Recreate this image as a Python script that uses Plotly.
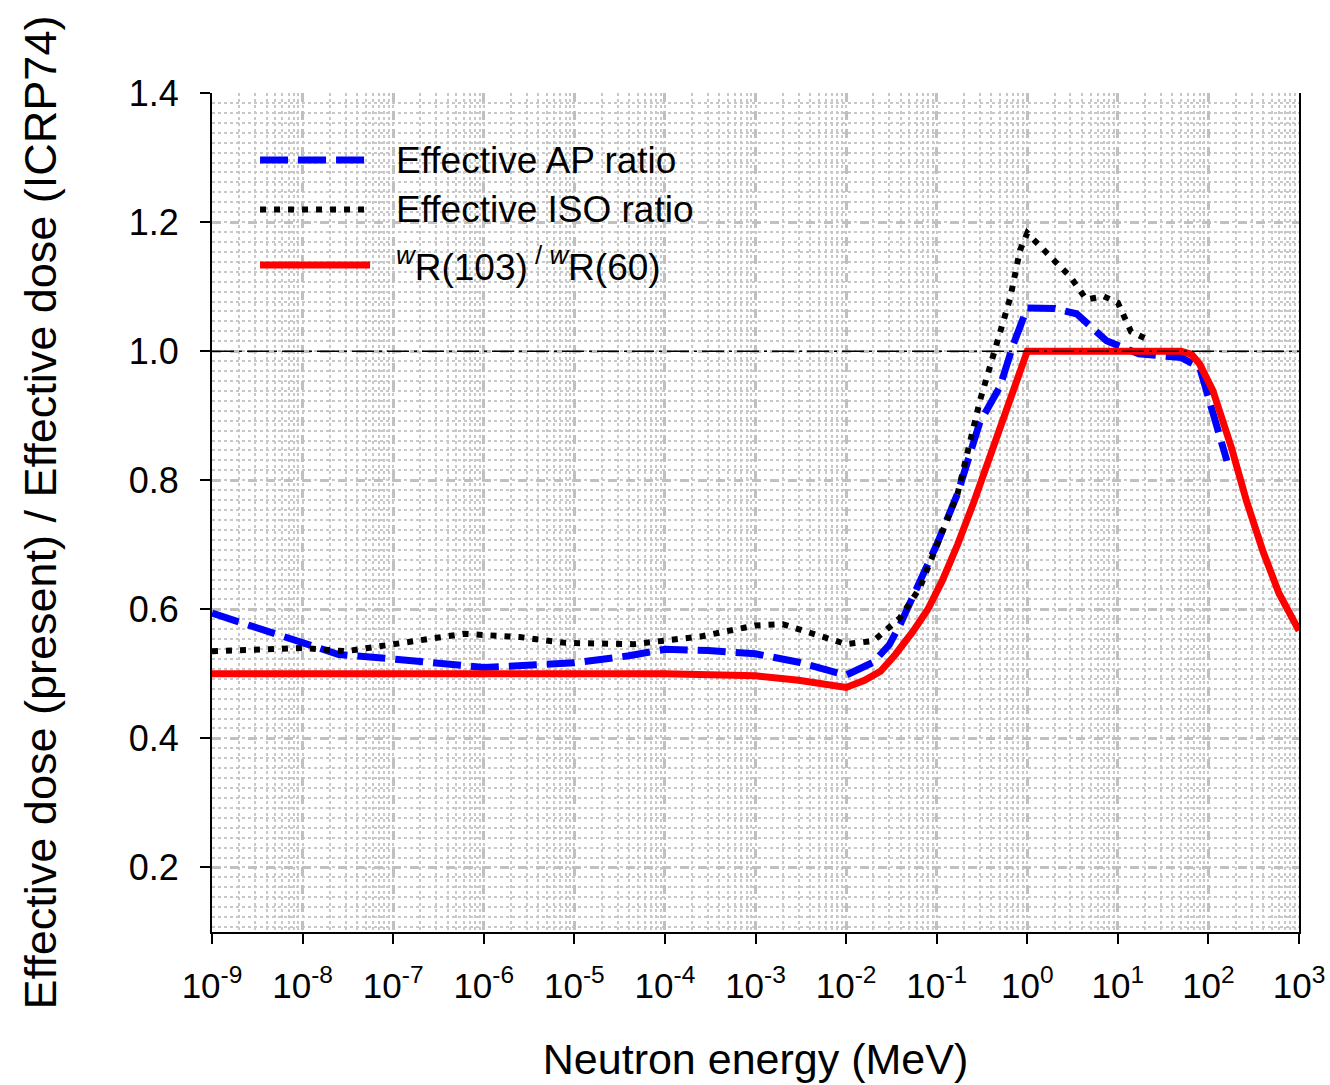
import plotly.graph_objects as go

# Neutron energy grid (MeV) and ratios for each curve
ap_energy = [1e-9, 3e-9, 1e-8, 2.5e-8, 1e-7, 1e-6, 1e-5, 4e-5, 1e-4, 3e-4, 1e-3, 3e-3,
             1e-2, 2e-2, 3e-2, 4e-2, 6e-2, 1e-1, 1.7e-1, 3e-1, 5e-1, 7e-1,
             1.0, 2.0, 3.5, 7.5, 17, 50, 80, 130, 160]
ap_ratio = [0.594, 0.572, 0.548, 0.530, 0.523, 0.510, 0.517, 0.528, 0.538, 0.536, 0.531, 0.518,
            0.498, 0.518, 0.545, 0.578, 0.632, 0.700, 0.779, 0.890, 0.945, 1.010,
            1.067, 1.066, 1.058, 1.016, 0.996, 0.990, 0.975, 0.870, 0.830]

iso_energy = [1e-9, 1e-8, 3e-8, 1.2e-7, 6e-7, 2.5e-6, 8e-6, 4.5e-5, 2.5e-4, 1e-3, 2e-3,
              6.6e-3, 1e-2, 2e-2, 3.9e-2, 6.5e-2, 1e-1, 1.7e-1, 3e-1, 4.6e-1, 6.5e-1, 8.3e-1,
              1.0, 2.0, 3.0, 4.5, 7.0, 10, 14, 20]
iso_ratio = [0.535, 0.540, 0.535, 0.548, 0.562, 0.557, 0.548, 0.546, 0.558, 0.575, 0.577,
             0.554, 0.546, 0.551, 0.586, 0.633, 0.700, 0.779, 0.923, 1.016, 1.083, 1.156,
             1.183, 1.140, 1.115, 1.080, 1.085, 1.075, 1.030, 1.020]

wr_energy = [1e-9, 1e-8, 1e-7, 1e-6, 1e-5, 1e-4, 1e-3, 3e-3, 1e-2, 1.6e-2, 2.4e-2, 3.5e-2,
             5.5e-2, 8e-2, 1.15e-1, 1.7e-1, 2.6e-1, 5e-1, 1.0, 10, 50, 65, 80, 112, 180, 263,
             400, 600, 800, 1000]
wr_ratio = [0.500, 0.500, 0.500, 0.500, 0.500, 0.500, 0.497, 0.490, 0.479, 0.490, 0.504, 0.530,
            0.566, 0.600, 0.644, 0.700, 0.768, 0.880, 1.000, 1.000, 1.000, 0.995, 0.980, 0.939,
            0.850, 0.768, 0.690, 0.625, 0.590, 0.567]

REF_LEVEL = 1.0

x_tickvals = [10.0 ** p for p in range(-9, 4)]
x_ticktext = ["10<sup>%d</sup>" % p for p in range(-9, 4)]
y_tickvals = [0.2, 0.4, 0.6, 0.8, 1.0, 1.2, 1.4]

FONT = "Liberation Sans, Arial, sans-serif"
GRID = "#c0c0c0"
MINOR_GRID = "#c8c8c8"

ap_style = dict(color="#0000ff", width=7, dash="28px,10px")
iso_style = dict(color="#000000", width=6, dash="6px,8px")
wr_style = dict(color="#ff0000", width=7)

fig = go.Figure()
fig.add_trace(go.Scatter(x=ap_energy, y=ap_ratio, mode="lines", line=ap_style,
                         name="Effective AP ratio", showlegend=False))
fig.add_trace(go.Scatter(x=iso_energy, y=iso_ratio, mode="lines", line=iso_style,
                         name="Effective ISO ratio", showlegend=False))
fig.add_trace(go.Scatter(x=wr_energy, y=wr_ratio, mode="lines", line=wr_style,
                         name="wR(103)/wR(60)", showlegend=False))

# unity reference line
fig.add_hline(y=REF_LEVEL, line=dict(color="black", width=1.5, dash="22px,5px,3px,5px"),
              layer="above")

# hand-built legend with long line samples
legend_rows = [
    (0.920, ap_style, "Effective AP ratio"),
    (0.861, iso_style, "Effective ISO ratio"),
    (0.795, wr_style, "<sup><i>w</i></sup>R(103)<sup> / </sup><sup><i>w</i></sup>R(60)"),
]
for yy, style, label in legend_rows:
    fig.add_shape(type="line", xref="paper", yref="paper", x0=0.0442, x1=0.1454,
                  y0=yy, y1=yy, line=style)
    fig.add_annotation(xref="paper", yref="paper", x=0.1674, y=yy, xanchor="left",
                       yanchor="middle", text=label, showarrow=False,
                       font=dict(family=FONT, size=37, color="black"))

fig.update_xaxes(
    type="log", range=[-9, 3], automargin=False,
    tickvals=x_tickvals, ticktext=x_ticktext,
    ticks="outside", ticklen=10, tickwidth=2, tickcolor="black",
    showline=True, linecolor="black", linewidth=2,
    showgrid=True, gridcolor=GRID, gridwidth=3, griddash="dash",
    minor=dict(dtick="D1", showgrid=True, gridcolor=MINOR_GRID, gridwidth=2, griddash="dot"),
    tickfont=dict(family=FONT, size=35, color="black"),
    ticklabelstandoff=12,
    title=dict(text="Neutron energy (MeV)", font=dict(family=FONT, size=43, color="black"),
               standoff=40),
    zeroline=False,
)
fig.update_yaxes(
    range=[0.1, 1.4], automargin=False,
    tickvals=y_tickvals, tickformat=".1f",
    ticks="outside", ticklen=10, tickwidth=2, tickcolor="black",
    showline=True, linecolor="black", linewidth=2, mirror=True,
    showgrid=True, gridcolor=GRID, gridwidth=3, griddash="dash",
    minor=dict(dtick=0.2 / 13, showgrid=True, gridcolor=MINOR_GRID, gridwidth=2, griddash="dot"),
    tickfont=dict(family=FONT, size=36, color="black"),
    ticklabelstandoff=14,
    title=dict(text="Effective dose (present) / Effective dose (ICRP74)",
               font=dict(family=FONT, size=45, color="black"), standoff=58),
    zeroline=False,
)

fig.update_layout(
    width=1330, height=1085,
    margin=dict(l=212, r=31, t=93, b=153),
    paper_bgcolor="white", plot_bgcolor="white",
    showlegend=False,
)

fig.write_html("out.html")
